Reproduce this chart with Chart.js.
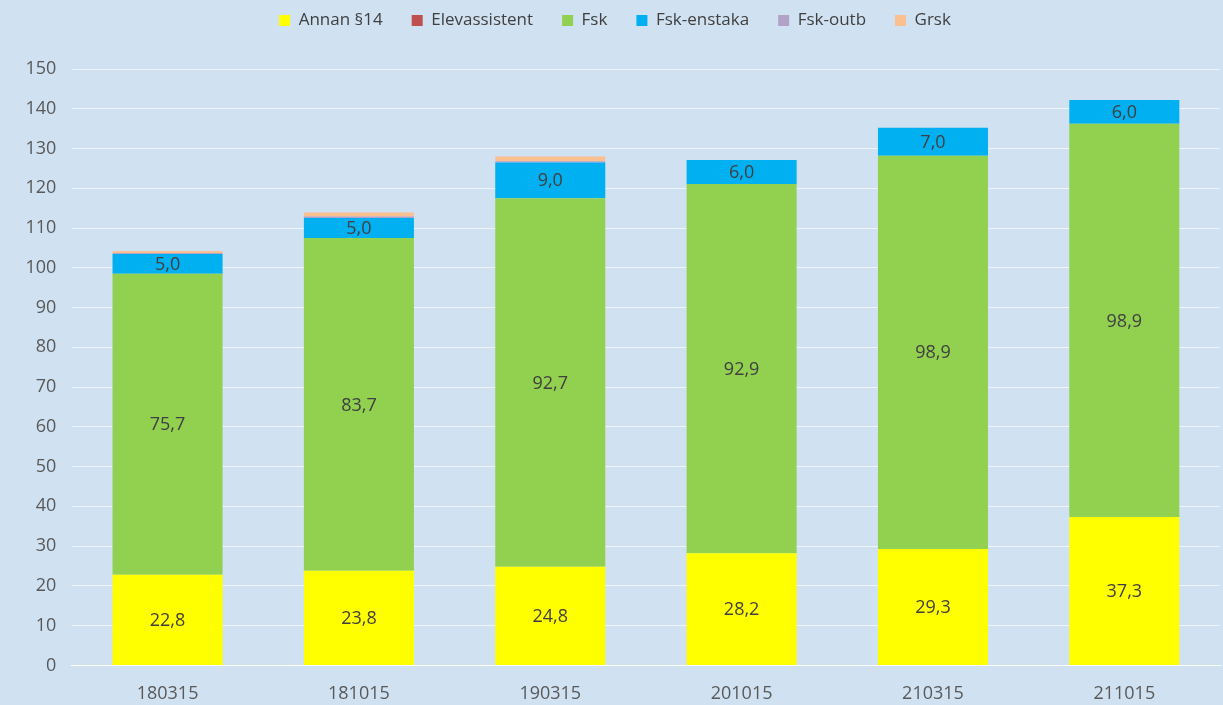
<!DOCTYPE html>
<html>
<head>
<meta charset="utf-8">
<script src="https://cdn.jsdelivr.net/npm/chart.js@4"></script>
<style>
  html, body { margin: 0; padding: 0; background: #d0e1f1; }
  #wrap { width: 1223px; height: 705px; }
</style>
</head>
<body>
<div id="wrap"><canvas id="chart"></canvas></div>
<script>
const labels = ['180315', '181015', '190315', '201015', '210315', '211015'];
const annan = [22.8, 23.8, 24.8, 28.2, 29.3, 37.3];
const elevassistent = [0, 0, 0, 0, 0, 0];
const fsk = [75.7, 83.7, 92.7, 92.9, 98.9, 98.9];
const fskEnstaka = [5.0, 5.0, 9.0, 6.0, 7.0, 6.0];
const fskOutb = [0.2, 0.4, 0.3, 0, 0, 0];
const grsk = [0.5, 1.0, 1.2, 0, 0, 0];
const yTicks = [0, 10, 20, 30, 40, 50, 60, 70, 80, 90, 100, 110, 120, 130, 140, 150];

const fontFam = "'Open Sans', 'Noto Sans', sans-serif";

// labels inside the big segments
const segLabels = {
    id: 'segLabels',
    afterDatasetsDraw(chart) {
        const ctx = chart.ctx;
        ctx.save();
        ctx.font = '18px ' + fontFam;
        ctx.fillStyle = '#404040';
        ctx.textAlign = 'center';
        ctx.textBaseline = 'middle';
        chart.data.datasets.forEach((ds, i) => {
            if (!ds.showLabel) return;
            chart.getDatasetMeta(i).data.forEach((bar, j) => {
                const v = ds.data[j];
                if (!v) return;
                const yMid = (bar.y + bar.base) / 2;
                ctx.fillText(v.toFixed(1).replace('.', ','), bar.x, yMid + 1);
            });
        });
        ctx.restore();
    }
};

// more room under the legend
const legendGap = {
    id: 'legendGap',
    beforeInit(chart) {
        const fit = chart.legend.fit;
        chart.legend.fit = function() {
            fit.bind(chart.legend)();
            this.height += 30;
        };
    }
};

new Chart(document.getElementById('chart'), {
    type: 'bar',
    data: {
        labels: labels,
        datasets: [
            { label: 'Annan §14', data: annan, backgroundColor: '#ffff00', showLabel: true },
            { label: 'Elevassistent', data: elevassistent, backgroundColor: '#c0504d' },
            { label: 'Fsk', data: fsk, backgroundColor: '#92d050', showLabel: true },
            { label: 'Fsk-enstaka', data: fskEnstaka, backgroundColor: '#00b0f0', showLabel: true },
            { label: 'Fsk-outb', data: fskOutb, backgroundColor: '#b3a2c7' },
            { label: 'Grsk', data: grsk, backgroundColor: '#fac090' }
        ]
    },
    options: {
        responsive: true,
        maintainAspectRatio: false,
        animation: false,
        layout: { padding: { left: 10, right: 3, top: -17, bottom: -10 } },
        datasets: { bar: { categoryPercentage: 0.575, barPercentage: 1.0 } },
        plugins: {
            legend: {
                position: 'top',
                labels: {
                    boxWidth: 11,
                    boxHeight: 11,
                    padding: 29,
                    color: '#404040',
                    font: { size: 17, family: fontFam }
                }
            },
            tooltip: { enabled: false }
        },
        scales: {
            x: {
                stacked: true,
                grid: { display: false },
                border: { color: '#ffffff' },
                ticks: { color: '#595959', font: { size: 18, family: fontFam }, padding: 10 }
            },
            y: {
                stacked: true,
                min: 0,
                max: 150,
                afterBuildTicks: axis => { axis.ticks = yTicks.map(v => ({ value: v })); },
                grid: { color: '#eef4fa', drawTicks: false },
                border: { display: false },
                ticks: { color: '#595959', font: { size: 18, family: fontFam }, padding: 15.5 }
            }
        }
    },
    plugins: [segLabels, legendGap]
});
</script>
</body>
</html>
